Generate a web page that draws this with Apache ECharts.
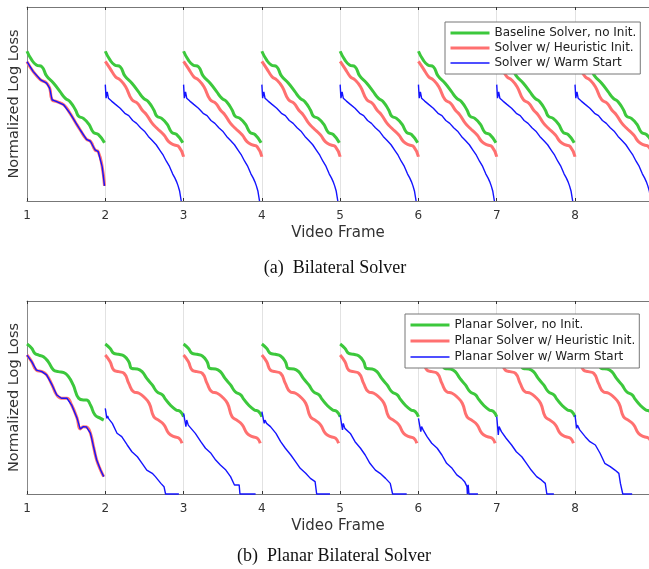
<!DOCTYPE html>
<html>
<head>
<meta charset="utf-8">
<title>Solver convergence per frame</title>
<script src="https://cdn.jsdelivr.net/npm/echarts@6/dist/echarts.min.js"></script>
<style>
html, body { margin: 0; padding: 0; background: #fff; }
#main { width: 649px; height: 569px; }
</style>
</head>
<body>
<div id="main"></div>
<script>
// frames on the x axis (the 9th is cut off at the right edge)
var frames = [1, 2, 3, 4, 5, 6, 7, 8];
var xMin = 1, xMax = 8.945;

// every curve: [position inside the frame 0..1, normalized log loss 0..1]

// (a) bilateral solver
var greenA = [[0,0.772],[0.06,0.727],[0.12,0.701],[0.19,0.692],[0.25,0.645],[0.34,0.607],[0.42,0.565],[0.49,0.529],[0.55,0.512],[0.62,0.469],[0.66,0.437],[0.72,0.426],[0.79,0.396],[0.85,0.353],[0.91,0.343],[0.99,0.300]];
// frame 1: heuristic and warm start are the same curve
var firstA = [[0,0.718],[0.08,0.667],[0.17,0.626],[0.25,0.608],[0.29,0.581],[0.32,0.522],[0.38,0.512],[0.47,0.495],[0.55,0.452],[0.62,0.405],[0.68,0.366],[0.76,0.318],[0.81,0.308],[0.87,0.263],[0.91,0.254],[0.96,0.177],[0.99,0.078]];
var redA = [[0,0.720],[0.06,0.684],[0.13,0.641],[0.19,0.624],[0.26,0.589],[0.34,0.522],[0.41,0.504],[0.47,0.469],[0.53,0.443],[0.60,0.400],[0.66,0.375],[0.75,0.340],[0.81,0.306],[0.88,0.289],[0.94,0.280],[1.0,0.228]];
var blueA = [[0,0.600],[0.01,0.530],[0.025,0.562],[0.04,0.530],[0.08,0.515],[0.13,0.498],[0.19,0.478],[0.25,0.452],[0.30,0.440],[0.35,0.415],[0.40,0.400],[0.45,0.378],[0.50,0.360],[0.55,0.333],[0.60,0.312],[0.65,0.290],[0.70,0.260],[0.74,0.236],[0.78,0.205],[0.82,0.178],[0.86,0.140],[0.89,0.118],[0.91,0.100],[0.93,0.078],[0.95,0.050],[0.97,0.0]];

// (b) planar bilateral solver
var greenB1 = [[0,0.777],[0.06,0.755],[0.10,0.729],[0.15,0.720],[0.21,0.711],[0.27,0.686],[0.34,0.642],[0.40,0.634],[0.47,0.629],[0.53,0.608],[0.59,0.565],[0.66,0.496],[0.72,0.487],[0.76,0.487],[0.81,0.461],[0.87,0.409],[0.94,0.392],[0.98,0.383]];
var greenB = [[0,0.777],[0.06,0.755],[0.11,0.729],[0.17,0.724],[0.24,0.715],[0.30,0.686],[0.34,0.650],[0.41,0.648],[0.47,0.634],[0.53,0.599],[0.60,0.565],[0.66,0.530],[0.73,0.513],[0.77,0.490],[0.83,0.461],[0.90,0.437],[0.96,0.427],[1.0,0.400]];
var firstB = [[0,0.720],[0.06,0.686],[0.12,0.642],[0.19,0.634],[0.25,0.617],[0.32,0.565],[0.38,0.513],[0.44,0.496],[0.51,0.496],[0.57,0.461],[0.64,0.392],[0.68,0.337],[0.72,0.349],[0.76,0.347],[0.81,0.315],[0.85,0.245],[0.89,0.176],[0.94,0.124],[0.98,0.090]];
var redB = [[0,0.720],[0.06,0.686],[0.11,0.642],[0.17,0.634],[0.24,0.625],[0.30,0.573],[0.36,0.530],[0.43,0.522],[0.49,0.504],[0.56,0.470],[0.62,0.400],[0.68,0.383],[0.75,0.358],[0.81,0.315],[0.88,0.297],[0.94,0.289],[0.98,0.263]];
// warm start differs a little from frame to frame (frames 2..8)
var blueB2 = [[0,0.444],[0.02,0.392],[0.03,0.404],[0.04,0.392],[0.09,0.366],[0.15,0.315],[0.21,0.297],[0.28,0.254],[0.34,0.219],[0.41,0.193],[0.47,0.159],[0.53,0.124],[0.60,0.107],[0.64,0.090],[0.71,0.055],[0.75,0.038],[0.77,0],[0.94,0]];
var blueB3 = [[0,0.418],[0.03,0.349],[0.04,0.383],[0.06,0.357],[0.15,0.314],[0.22,0.271],[0.28,0.237],[0.35,0.211],[0.41,0.176],[0.47,0.150],[0.54,0.124],[0.60,0.090],[0.65,0.047],[0.71,0.047],[0.72,0],[0.92,0]];
var blueB4 = [[0,0.427],[0.03,0.366],[0.04,0.383],[0.06,0.366],[0.11,0.349],[0.18,0.314],[0.24,0.271],[0.30,0.237],[0.37,0.202],[0.43,0.168],[0.49,0.133],[0.56,0.107],[0.62,0.081],[0.68,0.064],[0.70,0],[0.87,0]];
var blueB5 = [[0,0.409],[0.03,0.332],[0.04,0.366],[0.06,0.340],[0.13,0.314],[0.19,0.271],[0.26,0.237],[0.32,0.202],[0.38,0.159],[0.45,0.124],[0.51,0.107],[0.58,0.081],[0.64,0.055],[0.67,0],[0.85,0]];
var blueB6 = [[0,0.392],[0.03,0.323],[0.04,0.349],[0.06,0.332],[0.11,0.297],[0.17,0.263],[0.24,0.237],[0.30,0.202],[0.36,0.159],[0.43,0.133],[0.49,0.099],[0.55,0.081],[0.59,0.064],[0.62,0.038],[0.625,0],[0.635,0.047],[0.645,0],[0.76,0]];
var blueB7 = [[0,0.401],[0.02,0.306],[0.03,0.349],[0.06,0.323],[0.12,0.289],[0.19,0.254],[0.25,0.219],[0.32,0.193],[0.38,0.159],[0.44,0.124],[0.51,0.090],[0.57,0.073],[0.62,0.055],[0.64,0],[0.73,0]];
var blueB8 = [[0,0.409],[0.02,0.340],[0.03,0.357],[0.06,0.332],[0.13,0.297],[0.19,0.271],[0.26,0.254],[0.32,0.211],[0.38,0.159],[0.45,0.142],[0.51,0.124],[0.56,0.107],[0.58,0.055],[0.61,0],[0.73,0]];

var namesA = ['Baseline Solver, no Init.', 'Solver w/ Heuristic Init.', 'Solver w/ Warm Start'];
var namesB = ['Planar Solver, no Init.', 'Planar Solver w/ Heuristic Init.', 'Planar Solver w/ Warm Start'];
var captions = ['(a)  Bilateral Solver', '(b)  Planar Bilateral Solver'];

var GREEN = '#3cc83c', RED = '#ff7070', BLUE = '#1414ff';
var WIDTHS = [3, 3, 1.4];
var FONT = 'DejaVu Sans';

// one curve per frame, broken between frames
function track(curves) {
  var out = [];
  frames.forEach(function (f, i) {
    if (i > 0) out.push(null);
    curves[i].forEach(function (p) { out.push([f + p[0], p[1]]); });
  });
  return out;
}
function same(first, rest) {
  var list = [first];
  for (var i = 1; i < frames.length; i++) list.push(rest);
  return list;
}

function xAxes(g) {
  return [{
    type: 'value', gridIndex: g, min: xMin, max: xMax, interval: 1,
    name: 'Video Frame', nameLocation: 'middle', nameGap: 25,
    nameTextStyle: { fontFamily: FONT, fontSize: 15, color: '#333' },
    axisLine: { lineStyle: { color: '#777', width: 1 } },
    axisTick: { inside: true, length: 3, lineStyle: { color: '#333' } },
    axisLabel: { fontFamily: FONT, fontSize: 12, color: '#333', margin: 9, showMaxLabel: false },
    splitLine: { show: true, lineStyle: { color: '#e2e2e2', width: 1 } }
  }, {
    type: 'value', gridIndex: g, position: 'top', min: xMin, max: xMax, interval: 1,
    axisLine: { lineStyle: { color: '#777', width: 1 } },
    axisTick: { inside: true, length: 3, lineStyle: { color: '#333' } },
    axisLabel: { show: false },
    splitLine: { show: false }
  }];
}
function yAxis(g) {
  return {
    type: 'value', gridIndex: g, min: 0, max: 1,
    name: 'Normalized Log Loss', nameLocation: 'middle', nameGap: 5,
    nameTextStyle: { fontFamily: FONT, fontSize: 14.5, color: '#333' },
    axisLine: { show: true, lineStyle: { color: '#888', width: 1 } },
    axisTick: { show: false },
    axisLabel: { show: false },
    splitLine: { show: false }
  };
}
function line(name, g, data, color, width, smooth) {
  return {
    name: name, type: 'line', xAxisIndex: g * 2, yAxisIndex: g,
    data: data, symbol: 'none', smooth: smooth, connectNulls: false,
    clip: false, animation: false,
    lineStyle: { color: color, width: width },
    itemStyle: { color: color }
  };
}
function legend(names, left, top, gap) {
  return {
    data: names.map(function (n, i) {
      return { name: n, lineStyle: { width: WIDTHS[i] } };
    }),
    orient: 'vertical', left: left, top: top,
    padding: [5, 4, 5, 4], itemGap: gap, itemWidth: 39, itemHeight: 14,
    backgroundColor: '#fff', borderColor: '#777', borderWidth: 1, borderRadius: 0,
    // hide the marker dot, keep only the line
    itemStyle: { color: 'rgba(0,0,0,0)', borderWidth: 0, opacity: 0 },
    textStyle: { fontFamily: FONT, fontSize: 12, color: '#222' },
    selectedMode: false
  };
}

var chart = echarts.init(document.getElementById('main'), null, { renderer: 'canvas' });
chart.setOption({
  backgroundColor: '#fff',
  animation: false,
  title: [
    { text: captions[0], left: 330, top: 254, textAlign: 'center',
      textStyle: { fontFamily: 'Liberation Serif', fontWeight: 'normal', fontSize: 18, color: '#111' } },
    { text: captions[1], left: 329, top: 542, textAlign: 'center',
      textStyle: { fontFamily: 'Liberation Serif', fontWeight: 'normal', fontSize: 18, color: '#111' } }
  ],
  legend: [legend(namesA, 445, 22, 3), legend(namesB, 405, 314, 4)],
  grid: [
    { left: 27, top: 7, right: 0, height: 194, outerBoundsMode: 'none' },
    { left: 27, top: 301, right: 0, height: 193, outerBoundsMode: 'none' }
  ],
  xAxis: xAxes(0).concat(xAxes(1)),
  yAxis: [yAxis(0), yAxis(1)],
  series: [
    line(namesA[0], 0, track(same(greenA, greenA)), GREEN, WIDTHS[0], 0.5),
    line(namesA[1], 0, track(same(firstA, redA)), RED, WIDTHS[1], 0.5),
    line(namesA[2], 0, track(same(firstA, blueA)), BLUE, WIDTHS[2], false),
    line(namesB[0], 1, track(same(greenB1, greenB)), GREEN, WIDTHS[0], 0.5),
    line(namesB[1], 1, track(same(firstB, redB)), RED, WIDTHS[1], 0.5),
    line(namesB[2], 1, track([firstB, blueB2, blueB3, blueB4, blueB5, blueB6, blueB7, blueB8]), BLUE, WIDTHS[2], false)
  ]
});
</script>
</body>
</html>
